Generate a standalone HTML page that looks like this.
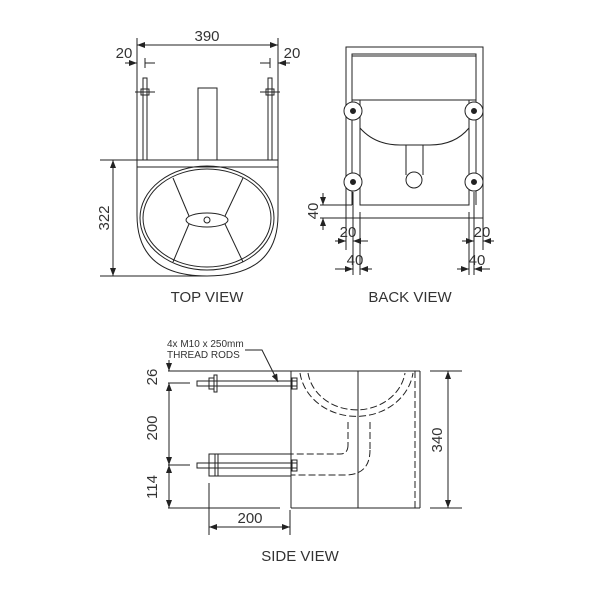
<!DOCTYPE html>
<html><head><meta charset="utf-8"><style>
html,body{margin:0;padding:0;background:#fff}
svg{display:block}
text{font-family:"Liberation Sans Narrow","Liberation Sans",sans-serif;fill:#333}
</style></head><body>
<svg width="600" height="600" viewBox="0 0 600 600" xmlns="http://www.w3.org/2000/svg">
<defs>
<marker id="a" markerWidth="8" markerHeight="6" refX="8" refY="3" orient="auto-start-reverse" markerUnits="userSpaceOnUse"><path d="M0,0 L8,3 L0,6z" fill="#222"/></marker>
</defs>
<g stroke="#222" stroke-width="1" fill="none">
<!-- TOP VIEW -->
<line x1="137" y1="38" x2="137" y2="160"/><line x1="278" y1="38" x2="278" y2="160"/>
<line x1="137" y1="45" x2="278" y2="45" marker-start="url(#a)" marker-end="url(#a)"/>
<line x1="125" y1="63" x2="137" y2="63" marker-end="url(#a)"/><line x1="145" y1="63" x2="155" y2="63"/><line x1="145" y1="58" x2="145" y2="68"/>
<line x1="290" y1="63" x2="278" y2="63" marker-end="url(#a)"/><line x1="270" y1="63" x2="260" y2="63"/><line x1="270" y1="58" x2="270" y2="68"/>
<rect x="143" y="78" width="4" height="82"/><rect x="268" y="78" width="4" height="82"/>
<line x1="135" y1="92" x2="155" y2="92"/><line x1="260" y1="92" x2="280" y2="92"/>
<rect x="141" y="89" width="8" height="6"/><rect x="266" y="89" width="8" height="6"/>
<rect x="198" y="88" width="19" height="72"/>
<rect x="137" y="160" width="141" height="7"/>
<path d="M137,167 L137,215 Q137,276 207,276 Q278,276 278,215 L278,167"/>
<ellipse cx="207" cy="218" rx="67" ry="52"/><ellipse cx="207" cy="218" rx="64" ry="49"/>
<ellipse cx="207" cy="220" rx="21" ry="7"/>
<line x1="173" y1="178" x2="189" y2="216"/><line x1="243" y1="178" x2="225" y2="216"/>
<line x1="173" y1="262" x2="189" y2="224"/><line x1="243" y1="262" x2="225" y2="224"/>
<circle cx="207" cy="220" r="3"/>
<line x1="100" y1="160" x2="137" y2="160"/><line x1="100" y1="276" x2="207" y2="276"/>
<line x1="113" y1="160" x2="113" y2="276" marker-start="url(#a)" marker-end="url(#a)"/>
<!-- BACK VIEW -->
<rect x="346" y="47" width="137" height="171"/>
<rect x="352" y="54" width="124" height="46"/>
<line x1="352" y1="56" x2="476" y2="56"/>
<line x1="352" y1="100" x2="352" y2="205"/><line x1="476" y1="100" x2="476" y2="205"/>
<rect x="360" y="100" width="109" height="105"/>
<path d="M360,128 Q375,145 400,145 L430,145 Q455,145 469,128"/>
<line x1="406" y1="145" x2="406" y2="175"/><line x1="423" y1="145" x2="423" y2="175"/>
<circle cx="414" cy="180" r="8" fill="#fff"/>
<g fill="#fff"><circle cx="353" cy="111" r="9"/><circle cx="474" cy="111" r="9"/><circle cx="353" cy="182" r="9"/><circle cx="474" cy="182" r="9"/></g>
<g fill="#222"><circle cx="353" cy="111" r="2.5"/><circle cx="474" cy="111" r="2.5"/><circle cx="353" cy="182" r="2.5"/><circle cx="474" cy="182" r="2.5"/></g>
<line x1="320" y1="205" x2="352" y2="205"/><line x1="320" y1="218" x2="346" y2="218"/>
<line x1="323" y1="193" x2="323" y2="205" marker-end="url(#a)"/><line x1="323" y1="230" x2="323" y2="218" marker-end="url(#a)"/>
<line x1="353" y1="192" x2="353" y2="275"/><line x1="360" y1="212" x2="360" y2="275"/><line x1="346" y1="218" x2="346" y2="250"/>
<line x1="335" y1="241" x2="346" y2="241" marker-end="url(#a)"/><line x1="368" y1="241" x2="353" y2="241" marker-end="url(#a)"/>
<line x1="335" y1="269" x2="353" y2="269" marker-end="url(#a)"/><line x1="372" y1="269" x2="360" y2="269" marker-end="url(#a)"/>
<line x1="474" y1="192" x2="474" y2="275"/><line x1="469" y1="212" x2="469" y2="275"/><line x1="483" y1="218" x2="483" y2="250"/>
<line x1="462" y1="241" x2="474" y2="241" marker-end="url(#a)"/><line x1="494" y1="241" x2="483" y2="241" marker-end="url(#a)"/>
<line x1="457" y1="269" x2="469" y2="269" marker-end="url(#a)"/><line x1="490" y1="269" x2="474" y2="269" marker-end="url(#a)"/>
<!-- SIDE VIEW -->
<path d="M245,350 L262,350 L278,382" marker-end="url(#a)"/>
<line x1="168" y1="371" x2="300" y2="371"/><line x1="168" y1="383" x2="190" y2="383"/>
<line x1="168" y1="465" x2="190" y2="465"/><line x1="168" y1="508" x2="280" y2="508"/>
<line x1="169" y1="360" x2="169" y2="371" marker-end="url(#a)"/>
<line x1="169" y1="383" x2="169" y2="465" marker-start="url(#a)" marker-end="url(#a)"/>
<line x1="169" y1="465" x2="169" y2="508" marker-start="url(#a)" marker-end="url(#a)"/>
<rect x="197" y="381" width="100" height="5"/>
<rect x="209" y="378" width="5" height="11"/><rect x="214" y="375" width="3" height="17"/><rect x="292" y="378" width="5" height="11"/>
<rect x="197" y="463" width="100" height="5"/>
<rect x="209" y="454" width="6" height="22"/><rect x="215" y="454" width="3" height="22"/>
<line x1="218" y1="454" x2="291" y2="454"/><line x1="218" y1="476" x2="291" y2="476"/>
<rect x="292" y="460" width="5" height="11"/>
<line x1="291" y1="371" x2="291" y2="508"/><line x1="291" y1="508" x2="420" y2="508"/>
<line x1="420" y1="371" x2="420" y2="508"/><line x1="300" y1="371" x2="420" y2="371"/>
<line x1="358" y1="371" x2="358" y2="508"/>
<line x1="430" y1="371" x2="462" y2="371"/><line x1="430" y1="508" x2="462" y2="508"/>
<line x1="448" y1="371" x2="448" y2="508" marker-start="url(#a)" marker-end="url(#a)"/>
<line x1="209" y1="483" x2="209" y2="535"/><line x1="290" y1="510" x2="290" y2="535"/>
<line x1="209" y1="527" x2="290" y2="527" marker-start="url(#a)" marker-end="url(#a)"/>
<g stroke-dasharray="7,3">
<line x1="415" y1="371" x2="415" y2="508"/>
<path d="M300,373 A57,50 0 0 0 413,373"/>
<path d="M308,373 A49,43 0 0 0 405,373"/>
<line x1="348" y1="422" x2="348" y2="445"/><line x1="370" y1="422" x2="370" y2="450"/>
<path d="M348,445 Q348,454 340,454 L291,454"/>
<path d="M370,450 Q370,475 345,475 L291,475"/>
<line x1="291" y1="454" x2="218" y2="454" stroke-dasharray="none"/>
</g>
</g>
<g font-size="15">
<text x="207" y="41" text-anchor="middle">390</text>
<text x="124" y="58" text-anchor="middle">20</text>
<text x="292" y="58" text-anchor="middle">20</text>
<text transform="translate(109,218) rotate(-90)" text-anchor="middle">322</text>
<text x="207" y="302" text-anchor="middle">TOP VIEW</text>
<text transform="translate(318,211) rotate(-90)" text-anchor="middle">40</text>
<text x="348" y="237" text-anchor="middle">20</text>
<text x="355" y="265" text-anchor="middle">40</text>
<text x="482" y="237" text-anchor="middle">20</text>
<text x="477" y="265" text-anchor="middle">40</text>
<text x="410" y="302" text-anchor="middle">BACK VIEW</text>
<text transform="translate(157,377) rotate(-90)" text-anchor="middle">26</text>
<text transform="translate(157,428) rotate(-90)" text-anchor="middle">200</text>
<text transform="translate(157,487) rotate(-90)" text-anchor="middle">114</text>
<text transform="translate(442,440) rotate(-90)" text-anchor="middle">340</text>
<text x="250" y="523" text-anchor="middle">200</text>
<text x="300" y="561" text-anchor="middle">SIDE VIEW</text>
</g>
<text x="167" y="347" font-size="10">4x M10 x 250mm</text>
<text x="167" y="358" font-size="10">THREAD RODS</text>
</svg>
</body></html>
